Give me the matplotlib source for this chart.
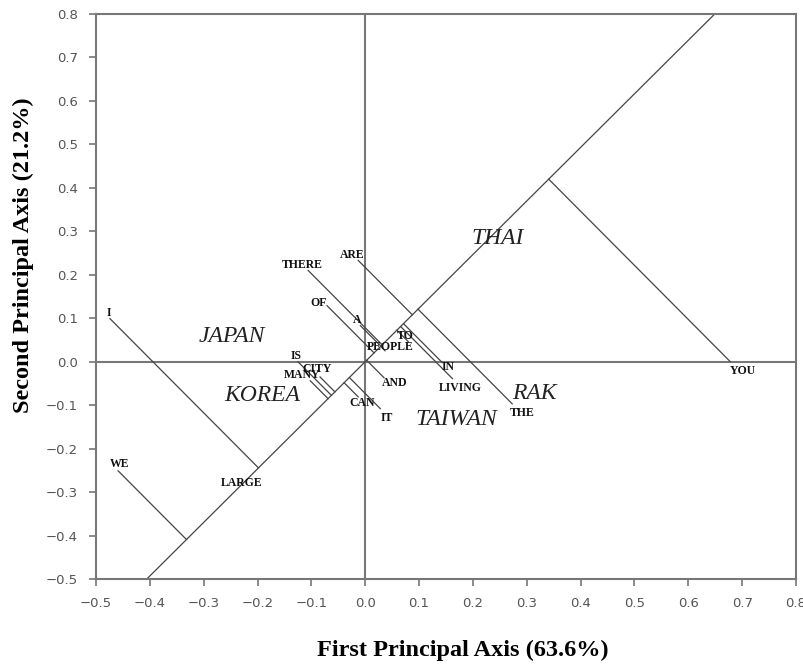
import numpy as np
import matplotlib
matplotlib.use("Agg")
import matplotlib.pyplot as plt
from matplotlib.ticker import FuncFormatter

# word coordinates (first, second principal axis)
words = ["I", "WE", "LARGE", "THERE", "ARE", "OF", "A", "PEOPLE", "TO", "IN",
         "LIVING", "THE", "YOU", "IS", "CITY", "MANY", "AND", "CAN", "IT"]
word_x = [-0.474, -0.459, -0.229, -0.106, -0.013, -0.071, -0.009, 0.037, 0.080, 0.143,
          0.162, 0.273, 0.678, -0.125, -0.084, -0.102, 0.035, -0.013, 0.028]
word_y = [0.099, -0.251, -0.279, 0.210, 0.233, 0.129, 0.083, 0.025, 0.046, -0.002,
          -0.039, -0.097, 0.000, 0.000, -0.035, -0.044, -0.037, -0.081, -0.108]

# country coordinates
countries = ["JAPAN", "KOREA", "THAI", "TAIWAN", "RAK"]
country_x = [-0.247, -0.191, 0.245, 0.169, 0.314]
country_y = [0.058, -0.078, 0.283, -0.134, -0.074]

# direction of the projection axis (point it runs through besides the origin)
axis_end = (0.649, 0.80)

# label offsets in points (label centre relative to the word point)
offsets = {"I": (-1, 4), "WE": (1, 5), "LARGE": (0, 0), "THERE": (-4, 4), "ARE": (-4, 4),
           "OF": (-6, 2), "A": (-2, 4), "PEOPLE": (4, 3), "TO": (-2, 4), "IN": (4, -3.5),
           "LIVING": (6, -7), "THE": (7, -6.5), "YOU": (9, -6.5), "IS": (-1, 4),
           "CITY": (-2, 6), "MANY": (-6, 4.5), "AND": (8, -3.5), "CAN": (3, -4.5), "IT": (5, -6.5)}

fig = plt.figure(figsize=(8.04, 6.67), dpi=100)
ax = fig.add_axes([96 / 804, 1 - 579 / 667, 700 / 804, 565 / 667])
ax.set_xlim(-0.5, 0.8)
ax.set_ylim(-0.5, 0.8)

grey = "#777777"
ax.axhline(0, color=grey, lw=1.5, zorder=1)
ax.axvline(0, color=grey, lw=1.5, zorder=1)
ax.axline((0, 0), axis_end, color="#444444", lw=0.9, zorder=2)

# perpendicular projections onto the axis, done in display space
trans = ax.transData
o = trans.transform((0, 0))
e = trans.transform(axis_end)
u = (e - o) / np.hypot(*(e - o))
for w, x, y in zip(words, word_x, word_y):
    P = trans.transform((x, y))
    foot = o + np.dot(P - o, u) * u
    fx, fy = trans.inverted().transform(foot)
    ax.plot([x, fx], [y, fy], color="#444444", lw=0.9, zorder=2)
    dx, dy = offsets[w]
    ax.annotate(w, (x, y), xytext=(dx, dy), textcoords="offset points",
                ha="center", va="center", fontsize=8.5, fontweight="bold",
                family="Liberation Serif", color="#111111", zorder=3)

for c, x, y in zip(countries, country_x, country_y):
    ax.text(x, y, c, ha="center", va="center", fontsize=17, fontstyle="italic",
            family="Liberation Serif", color="#222222", zorder=3)


def fmt_tick(v, pos):
    if abs(v) < 1e-9:
        v = 0.0
    return f"{v:.1f}".replace("-", "\u2212")


ticks = np.round(np.arange(-0.5, 0.81, 0.1), 1)
ax.set_xticks(ticks)
ax.set_yticks(ticks)
ax.xaxis.set_major_formatter(FuncFormatter(fmt_tick))
ax.yaxis.set_major_formatter(FuncFormatter(fmt_tick))
ax.tick_params(direction="out", length=5, width=1.2, color=grey,
               labelsize=9.5, labelcolor="#555555", pad=8)
for s in ax.spines.values():
    s.set_color(grey)
    s.set_linewidth(1.5)

ax.set_xlabel("First Principal Axis (63.6%)", fontsize=17.5, fontweight="bold",
              family="Liberation Serif")
ax.set_ylabel("Second Principal Axis (21.2%)", fontsize=17.5, fontweight="bold",
              family="Liberation Serif")
ax.xaxis.set_label_coords(0.524, -0.107)
ax.yaxis.set_label_coords(-0.089, 0.573)

fig.savefig("out.png", dpi=100)
